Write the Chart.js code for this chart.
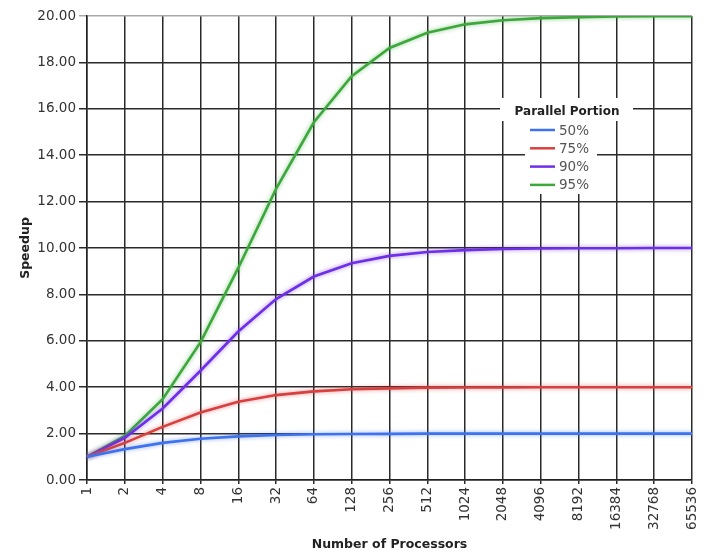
<!DOCTYPE html>
<html>
<head>
<meta charset="utf-8">
<script src="https://cdn.jsdelivr.net/npm/chart.js@4/dist/chart.umd.min.js"></script>
<style>
  html, body { margin: 0; padding: 0; background: #fff; }
  #wrap { width: 706px; height: 553px; }
</style>
</head>
<body>
<div id="wrap"><canvas id="c" width="706" height="553"></canvas></div>
<script>
// Amdahl's law speedup by processor count
const processors = ['1','2','4','8','16','32','64','128','256','512','1024','2048','4096','8192','16384','32768','65536'];

const portion50 = [1.00, 1.33, 1.60, 1.78, 1.88, 1.94, 1.97, 1.98, 1.99, 2.00, 2.00, 2.00, 2.00, 2.00, 2.00, 2.00, 2.00];
const portion75 = [1.00, 1.60, 2.29, 2.91, 3.37, 3.66, 3.82, 3.91, 3.95, 3.98, 3.99, 3.99, 4.00, 4.00, 4.00, 4.00, 4.00];
const portion90 = [1.00, 1.82, 3.08, 4.71, 6.40, 7.80, 8.77, 9.34, 9.66, 9.83, 9.91, 9.96, 9.98, 9.99, 9.99, 10.00, 10.00];
const portion95 = [1.00, 1.90, 3.48, 5.93, 9.14, 12.55, 15.42, 17.41, 18.62, 19.28, 19.64, 19.82, 19.91, 19.95, 19.98, 19.99, 19.99];

const seriesLabels = ['50%', '75%', '90%', '95%'];
const seriesColors = ['#3f72ee', '#d8403f', '#6e2fe6', '#3ca83c'];
const legendTitle = 'Parallel Portion';

const FONT = 'DejaVu Sans';

// soft glow around each line
const glowPlugin = {
  id: 'glow',
  beforeDatasetDraw(chart, args) {
    const ctx = chart.ctx;
    ctx.save();
    ctx.shadowColor = chart.data.datasets[args.index].borderColor + '99';
    ctx.shadowBlur = 4;
  },
  afterDatasetDraw(chart) {
    chart.ctx.restore();
  }
};

// boxed legend drawn inside the plot area
const insetLegend = {
  id: 'insetLegend',
  afterDatasetsDraw(chart) {
    const ctx = chart.ctx;
    ctx.save();
    ctx.fillStyle = '#ffffff';
    ctx.fillRect(500, 98, 133, 23);
    ctx.fillRect(525, 121, 72, 73);
    ctx.font = 'bold 12px "' + FONT + '"';
    ctx.fillStyle = '#222';
    ctx.textAlign = 'center';
    ctx.textBaseline = 'middle';
    ctx.fillText(legendTitle, 567, 112);
    ctx.font = '13.5px "' + FONT + '"';
    ctx.textAlign = 'left';
    chart.data.datasets.forEach((ds, i) => {
      const y = 130 + i * 18.3;
      ctx.strokeStyle = ds.borderColor;
      ctx.lineWidth = 2.5;
      ctx.beginPath();
      ctx.moveTo(530, y);
      ctx.lineTo(555, y);
      ctx.stroke();
      ctx.fillStyle = '#555';
      ctx.fillText(ds.label, 559, y + 1);
    });
    ctx.restore();
  }
};

const values = [portion50, portion75, portion90, portion95];

new Chart(document.getElementById('c'), {
  type: 'line',
  data: {
    labels: processors,
    datasets: values.map((v, i) => ({
      label: seriesLabels[i],
      data: v,
      borderColor: seriesColors[i],
      backgroundColor: seriesColors[i],
      borderWidth: 2.6,
      pointRadius: 0,
      tension: 0,
      fill: false
    }))
  },
  options: {
    responsive: false,
    animation: false,
    devicePixelRatio: 1,
    layout: { padding: { top: 16, right: 14, bottom: 0, left: 0 } },
    plugins: {
      legend: { display: false },
      tooltip: { enabled: false }
    },
    scales: {
      x: {
        type: 'category',
        offset: false,
        border: { color: '#222', width: 1.5 },
        grid: {
          color: '#2a2a2a',
          lineWidth: 1.5,
          tickLength: 4,
          drawTicks: true
        },
        ticks: {
          autoSkip: false,
          maxRotation: 90,
          minRotation: 90,
          padding: 3,
          color: '#333',
          font: { family: FONT, size: 13.5 }
        },
        title: {
          display: true,
          text: 'Number of Processors',
          color: '#222',
          font: { family: FONT, size: 12.5, weight: 'bold' },
          padding: { top: 0, bottom: 1 }
        },
        afterFit(scale) {
          scale.height = 73;
          scale.paddingLeft = 0;
          scale.paddingRight = 0;
        }
      },
      y: {
        min: 0,
        max: 20,
        border: { color: '#222', width: 1.5 },
        grid: {
          color: ctx => (ctx.tick && ctx.tick.value === 20) ? '#a8a8a8' : '#2a2a2a',
          lineWidth: 1.5,
          tickLength: 8
        },
        ticks: {
          stepSize: 2,
          padding: 3,
          color: '#333',
          font: { family: FONT, size: 13.5 },
          callback: v => Number(v).toFixed(2)
        },
        title: {
          display: true,
          text: 'Speedup',
          color: '#222',
          font: { family: FONT, size: 12.5, weight: 'bold' },
          padding: { top: 18, bottom: 0 }
        },
        afterFit(scale) { scale.width = 87; }
      }
    }
  },
  plugins: [glowPlugin, insetLegend]
});
</script>
</body>
</html>
